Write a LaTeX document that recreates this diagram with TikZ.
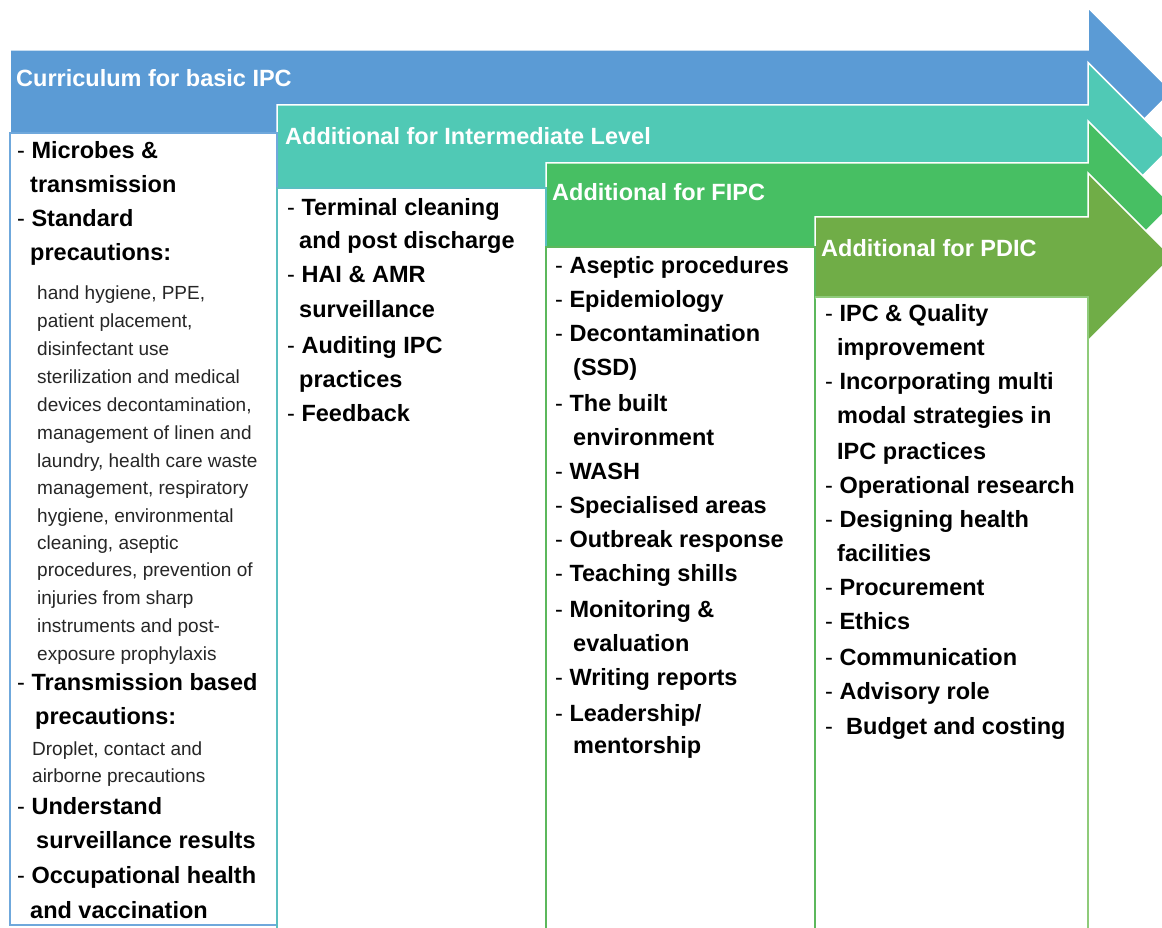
\documentclass[tikz,border=0pt]{standalone}
\usepackage{fontspec}
\setmainfont{Liberation Sans}
\definecolor{cblue}{HTML}{5B9BD5}
\definecolor{cteal}{HTML}{50C9B5}
\definecolor{cgreen}{HTML}{47BF63}
\definecolor{colive}{HTML}{70AD47}
\definecolor{bblue}{HTML}{6FA8DC}
\definecolor{bgreen}{HTML}{5CB85C}
\definecolor{blgreen}{HTML}{8FCB7A}
\newcommand{\dsh}{{\mdseries -} }
\tikzset{
  arrowshape/.style={draw=white, line width=1.5pt, line join=miter},
  boxframe/.style={fill=white, line width=1.6pt},
  titletxt/.style={anchor=base west, inner sep=0, text=white, font=\bfseries\fontsize{23.5}{28}\selectfont},
  itemtxt/.style={anchor=base west, inner sep=0, text=black, font=\bfseries\fontsize{23.5}{28}\selectfont},
  smalltxt/.style={anchor=base west, inner sep=0, text=black!85, font=\fontsize{19}{22}\selectfont},
  tinytxt/.style={anchor=base west, inner sep=0, text=black!85, font=\fontsize{19}{21}\selectfont}
}
\begin{document}
\begin{tikzpicture}[x=1pt,y=-1pt]
\useasboundingbox (0,0) rectangle (1162,928);
\clip (0,0) rectangle (1162,928);
\fill[white] (0,0) rectangle (1162,928);
% arrows
\def\H{84}
\filldraw[arrowshape, fill=cblue] (10,50) -- (1088,50) -- (1088,{91.5-\H}) -- ({1088+\H},91.5) -- (1088,{91.5+\H}) -- (1088,133) -- (10,133) -- cycle;
\filldraw[arrowshape, fill=cteal] (277,105) -- (1088,105) -- (1088,{146.5-\H}) -- ({1088+\H},146.5) -- (1088,{146.5+\H}) -- (1088,188) -- (277,188) -- cycle;
\filldraw[arrowshape, fill=cgreen] (546,163) -- (1088,163) -- (1088,{205-\H}) -- ({1088+\H},205) -- (1088,{205+\H}) -- (1088,247) -- (546,247) -- cycle;
\filldraw[arrowshape, fill=colive] (815,217) -- (1088,217) -- (1088,{257-\H}) -- ({1088+\H},257) -- (1088,{257+\H}) -- (1088,297) -- (815,297) -- cycle;
% boxes
\draw[boxframe, draw=bblue] (10,133) rectangle (277,925);
\draw[boxframe, draw=cteal!70!bblue] (277,188) rectangle (546,935);
\draw[boxframe, draw=bgreen] (546,247) rectangle (815,935);
\draw[boxframe, draw=bgreen] (815,297) -- (815,935);
\draw[boxframe, draw=blgreen] (815,297) -- (1088,297) -- (1088,935);
% titles
\node[titletxt] (t1) at (16,86.5) {Curriculum for basic IPC};
\node[titletxt] (t2) at (285,144.5) {Additional for Intermediate Level};
\node[titletxt] (t3) at (552,200.5) {Additional for FIPC};
\node[titletxt] (t4) at (821,257) {Additional for PDIC};
% box 1
\node[itemtxt] (a1) at (17,159) {\dsh Microbes \&};
\node[itemtxt] (a2) at (30,193) {transmission};
\node[itemtxt] (a3) at (17,226) {\dsh Standard};
\node[itemtxt] (a4) at (30,261) {precautions:};
\node[smalltxt] (s1) at (37,299) {hand hygiene, PPE,};
\node[smalltxt] (s2) at (37,327) {patient placement,};
\node[smalltxt] (s3) at (37,355) {disinfectant use};
\node[smalltxt] (s4) at (37,383) {sterilization and medical};
\node[smalltxt] (s5) at (37,411) {devices decontamination,};
\node[smalltxt] (s6) at (37,439) {management of linen and};
\node[smalltxt] (s7) at (37,467) {laundry, health care waste};
\node[smalltxt] (s8) at (37,494) {management, respiratory};
\node[smalltxt] (s9) at (37,522) {hygiene, environmental};
\node[smalltxt] (s10) at (37,549) {cleaning, aseptic};
\node[smalltxt] (s11) at (37,576) {procedures, prevention of};
\node[smalltxt] (s12) at (37,604) {injuries from sharp};
\node[smalltxt] (s13) at (37,632) {instruments and post-};
\node[smalltxt] (s14) at (37,660) {exposure prophylaxis};
\node[itemtxt] (a5) at (17,690) {\dsh Transmission based};
\node[itemtxt] (a6) at (35,724) {precautions:};
\node[tinytxt] (d1) at (32,755) {Droplet, contact and};
\node[tinytxt] (d2) at (32,782) {airborne precautions};
\node[itemtxt] (a7) at (17,814) {\dsh Understand};
\node[itemtxt] (a8) at (36,848) {surveillance results};
\node[itemtxt] (a9) at (17,883) {\dsh Occupational health};
\node[itemtxt] (a10) at (30,918) {and vaccination};
% box 2
\node[itemtxt] (b1) at (287,215) {\dsh Terminal cleaning};
\node[itemtxt] (b2) at (299,249) {and post discharge};
\node[itemtxt] (b3) at (287,283) {\dsh HAI \& AMR};
\node[itemtxt] (b4) at (299,317) {surveillance};
\node[itemtxt] (b5) at (287,353) {\dsh Auditing IPC};
\node[itemtxt] (b6) at (299,387) {practices};
\node[itemtxt] (b7) at (287,421) {\dsh Feedback};
% box 3
\node[itemtxt] (c1) at (555,273) {\dsh Aseptic procedures};
\node[itemtxt] (c2) at (555,307) {\dsh Epidemiology};
\node[itemtxt] (c3) at (555,341) {\dsh Decontamination};
\node[itemtxt] (c4) at (573,375) {(SSD)};
\node[itemtxt] (c5) at (555,411) {\dsh The built};
\node[itemtxt] (c6) at (573,445) {environment};
\node[itemtxt] (c7) at (555,479) {\dsh WASH};
\node[itemtxt] (c8) at (555,513) {\dsh Specialised areas};
\node[itemtxt] (c9) at (555,547) {\dsh Outbreak response};
\node[itemtxt] (c10) at (555,581) {\dsh Teaching shills};
\node[itemtxt] (c11) at (555,617) {\dsh Monitoring \&};
\node[itemtxt] (c12) at (573,651) {evaluation};
\node[itemtxt] (c13) at (555,685) {\dsh Writing reports};
\node[itemtxt] (c14) at (555,721) {\dsh Leadership/};
\node[itemtxt] (c15) at (573,753) {mentorship};
% box 4
\node[itemtxt] (e1) at (825,321) {\dsh IPC \& Quality};
\node[itemtxt] (e2) at (837,355) {improvement};
\node[itemtxt] (e3) at (825,389) {\dsh Incorporating multi};
\node[itemtxt] (e4) at (837,423) {modal strategies in};
\node[itemtxt] (e5) at (837,459) {IPC practices};
\node[itemtxt] (e6) at (825,493) {\dsh Operational research};
\node[itemtxt] (e7) at (825,527) {\dsh Designing health};
\node[itemtxt] (e8) at (837,561) {facilities};
\node[itemtxt] (e9) at (825,595) {\dsh Procurement};
\node[itemtxt] (e10) at (825,629) {\dsh Ethics};
\node[itemtxt] (e11) at (825,665) {\dsh Communication};
\node[itemtxt] (e12) at (825,699) {\dsh Advisory role};
\node[itemtxt] (e13) at (825,734) {{\mdseries -}\hspace{0.56em}Budget and costing};
\end{tikzpicture}
\end{document}
